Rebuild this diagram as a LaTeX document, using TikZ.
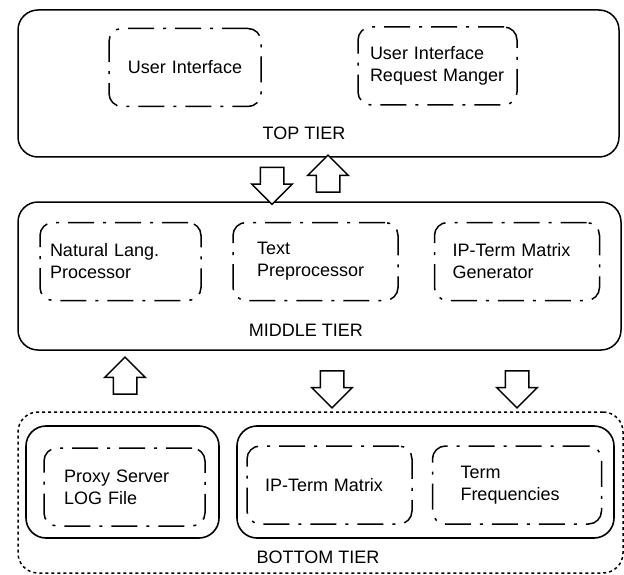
\documentclass[tikz,border=0pt]{standalone}
\usepackage{fontspec}
\setmainfont{Liberation Sans}
\usetikzlibrary{shapes.arrows}

\tikzset{
    tier/.style={draw, line width=1.5pt, rounded corners=20pt},
    outerdots/.style={draw, line width=1.5pt, rounded corners=20pt, dash pattern=on 3pt off 3pt},
    group/.style={draw, line width=1.6pt, rounded corners=20pt},
    part/.style={draw, line width=1.5pt, rounded corners=13pt,
        dash pattern=on 26pt off 9pt on 3pt off 9pt, minimum height=78pt,
        align=left, inner ysep=0pt, font=\fontsize{18}{22}\selectfont},
    tierlabel/.style={font=\fontsize{18}{22}\selectfont},
    flow/.style={draw, fill=white, line width=1.5pt, single arrow, single arrow head extend=8.5pt,
        single arrow head indent=0pt, minimum height=37pt, inner xsep=11pt, inner ysep=0pt},
}

\begin{document}
\begin{tikzpicture}[x=1pt, y=-1pt]

    \useasboundingbox (0,0) rectangle (624,575);

    % top tier
    \node[tier, minimum width=601pt, minimum height=147pt] (top) at (318.5,83.5) {};
    \node[part, text width=152pt, inner xsep=0pt, align=center] (ui) at (185,67.5) {User Interface};
    \node[part, text width=135pt, inner xsep=12pt] (uirm) at (437.5,66) {User Interface\\Request Manger};
    \node[tierlabel] (toplbl) at (304,133) {TOP TIER};

    % middle tier
    \node[tier, minimum width=603pt, minimum height=148pt] (middle) at (319.5,276) {};
    \node[part, text width=141pt, inner xsep=10pt] (nlp) at (120.5,261.5) {Natural Lang.\\Processor};
    \node[part, text width=117pt, inner xsep=24pt] (textpre) at (315.5,261.5) {Text\\Preprocessor};
    \node[part, text width=129pt, inner xsep=18pt] (matgen) at (517,261.5) {IP-Term Matrix\\Generator};
    \node[tierlabel] (midlbl) at (306,330) {MIDDLE TIER};

    % bottom tier
    \node[outerdots, minimum width=605pt, minimum height=161pt] (bottom) at (320.5,492.5) {};
    \node[group, minimum width=193pt, minimum height=112pt] (logs) at (122.5,482) {};
    \node[group, minimum width=377pt, minimum height=112pt] (matrices) at (425.5,482) {};
    \node[part, text width=121pt, inner xsep=20pt] (proxy) at (124.5,487) {Proxy Server\\LOG File};
    \node[part, text width=129pt, inner xsep=18pt] (ipterm) at (329.5,485) {IP-Term Matrix};
    \node[part, text width=113pt, inner xsep=28pt] (termfreq) at (517,485) {Term\\Frequencies};
    \node[tierlabel] (botlbl) at (318,557) {BOTTOM TIER};

    % flows between tiers
    \node[flow, shape border rotate=270] (down1) at (272,180) {};
    \node[flow, shape border rotate=90] (up1) at (328,179.5) {};
    \node[flow, shape border rotate=90] (up2) at (125,381.5) {};
    \node[flow, shape border rotate=270] (down2) at (332,383.5) {};
    \node[flow, shape border rotate=270] (down3) at (517,383.5) {};

\end{tikzpicture}
\end{document}
